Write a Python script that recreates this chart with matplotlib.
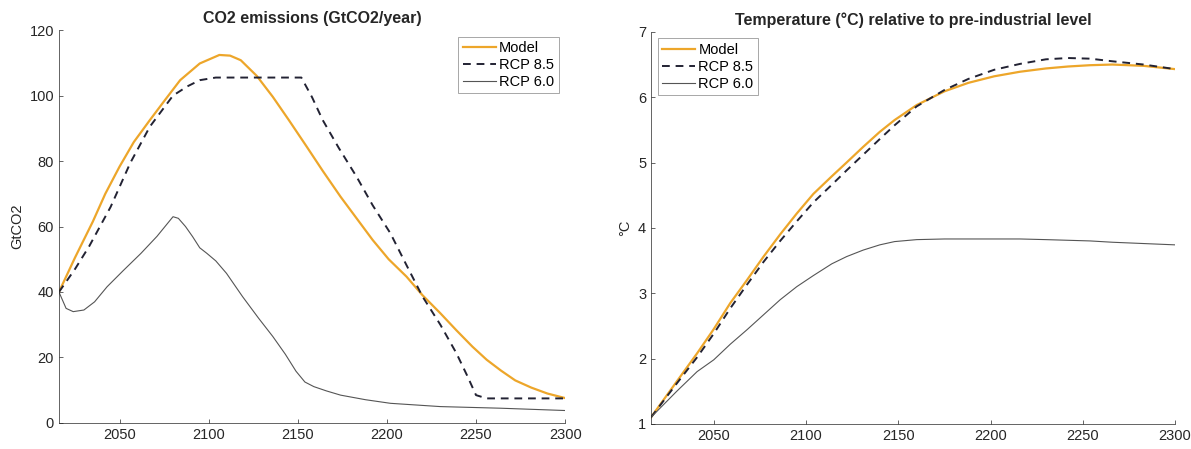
import numpy as np
import matplotlib.pyplot as plt

plt.rcParams['font.family'] = ['Liberation Sans', 'DejaVu Sans']

# CO2 emissions (GtCO2/year)
yr_model = [2016, 2025, 2035, 2042, 2050, 2058, 2067, 2076, 2084, 2095, 2106, 2112, 2118, 2127, 2136,
            2145, 2155, 2164, 2174, 2183, 2192, 2201, 2211, 2220, 2230, 2239, 2248, 2256, 2264, 2272, 2281, 2290, 2300]
co2_model = [40, 50.5, 61.5, 70, 78.3, 85.8, 92.5, 99, 104.7, 109.8, 112.4, 112.2, 110.8, 106, 99.6,
             92.5, 84.4, 77, 69.1, 62.5, 55.9, 50, 44.7, 39, 33.5, 28.3, 23.3, 19.3, 16, 13, 10.8, 9, 7.6]

yr_rcp85 = [2016, 2025, 2033, 2045, 2056, 2067, 2080, 2088, 2095, 2104, 2152, 2158, 2164, 2173, 2183,
            2192, 2202, 2211, 2220, 2230, 2239, 2245, 2250, 2256, 2300]
co2_rcp85 = [40, 47, 54, 66, 79.4, 90.5, 100, 102.8, 104.7, 105.5, 105.5, 99.5, 92.5, 84, 75.2,
             66.5, 57.9, 48.2, 38.6, 30, 21.3, 14.5, 8.5, 7.5, 7.5]

yr_rcp60 = [2016, 2020, 2024, 2030, 2036, 2043, 2052, 2062, 2071, 2077, 2080, 2083, 2087, 2091, 2095, 2099,
            2104, 2110, 2119, 2128, 2136, 2143, 2149, 2154, 2159, 2166, 2174, 2188, 2202, 2230, 2264, 2300]
co2_rcp60 = [40, 35, 34, 34.5, 37, 41.6, 46.5, 51.8, 57, 61, 63, 62.5, 60, 56.9, 53.5, 51.8,
             49.5, 45.7, 38.6, 32, 26.4, 21, 15.8, 12.5, 11.1, 9.8, 8.5, 7.1, 6.0, 5.0, 4.5, 3.8]

# Temperature (degC) relative to pre-industrial level
yr_t = [2016, 2030, 2041, 2050, 2059, 2068, 2077, 2086, 2095, 2104, 2114, 2122, 2131, 2140, 2148, 2160,
        2175, 2188, 2202, 2216, 2230, 2242, 2254, 2266, 2283, 2300]
t_model = [1.1, 1.65, 2.08, 2.45, 2.85, 3.2, 3.56, 3.9, 4.22, 4.52, 4.79, 5.0, 5.24, 5.47, 5.65, 5.88,
           6.09, 6.22, 6.32, 6.39, 6.44, 6.47, 6.49, 6.50, 6.48, 6.43]
t_rcp85 = [1.1, 1.62, 2.02, 2.38, 2.77, 3.13, 3.48, 3.8, 4.1, 4.39, 4.66, 4.88, 5.12, 5.36, 5.57, 5.86,
           6.11, 6.28, 6.42, 6.51, 6.58, 6.60, 6.59, 6.55, 6.50, 6.43]
t_rcp60 = [1.1, 1.5, 1.8, 1.98, 2.22, 2.44, 2.67, 2.9, 3.1, 3.27, 3.45, 3.56, 3.66, 3.74, 3.79, 3.82,
           3.83, 3.83, 3.83, 3.83, 3.82, 3.81, 3.80, 3.78, 3.76, 3.74]

c_model = '#EDA62A'
c_dark = '#222233'
c_grey = '#555555'
c_axis = '#262626'
fs = 10.5


def style(ax):
    for s in ['top', 'right']:
        ax.spines[s].set_visible(False)
    for s in ['left', 'bottom']:
        ax.spines[s].set_color(c_axis)
        ax.spines[s].set_linewidth(0.5)
    ax.tick_params(direction='in', length=3, width=0.5, colors=c_axis, labelsize=fs)
    ax.set_xlim(2016, 2300)
    ax.set_xticks([2050, 2100, 2150, 2200, 2250, 2300])


def legend(ax, loc):
    leg = ax.legend(loc=loc, fontsize=fs, fancybox=False, framealpha=1, borderaxespad=0.45,
                    borderpad=0.3, labelspacing=0.2, handlelength=2.3, handletextpad=0.2)
    leg.get_frame().set_edgecolor('#999999')
    leg.get_frame().set_linewidth(0.6)


fig = plt.figure(figsize=(11.91, 4.49), dpi=100)
ax1 = fig.add_axes([0.0495, 0.058, 0.425, 0.875])
ax2 = fig.add_axes([0.5466, 0.056, 0.440, 0.873])

ax1.plot(yr_model, co2_model, color=c_model, lw=1.6, label='Model')
ax1.plot(yr_rcp85, co2_rcp85, color=c_dark, lw=1.4, ls=(0, (4, 3)), label='RCP 8.5')
ax1.plot(yr_rcp60, co2_rcp60, color=c_grey, lw=0.8, label='RCP 6.0')
style(ax1)
ax1.set_ylim(0, 120)
ax1.set_yticks(range(0, 121, 20))
ax1.set_ylabel('GtCO2', fontsize=fs, color=c_axis)
ax1.set_title('CO2 emissions (GtCO2/year)', fontsize=11.5, fontweight='bold', color=c_axis, pad=5)
legend(ax1, 'upper right')

ax2.plot(yr_t, t_model, color=c_model, lw=1.6, label='Model')
ax2.plot(yr_t, t_rcp85, color=c_dark, lw=1.4, ls=(0, (4, 3)), label='RCP 8.5')
ax2.plot(yr_t, t_rcp60, color=c_grey, lw=0.8, label='RCP 6.0')
style(ax2)
ax2.set_ylim(1, 7)
ax2.set_yticks(range(1, 8))
ax2.set_ylabel('°C', fontsize=fs, color=c_axis)
ax2.set_title('Temperature (°C) relative to pre-industrial level', fontsize=11.5, fontweight='bold',
              color=c_axis, pad=5)
legend(ax2, 'upper left')

fig.savefig('out.png', dpi=100)
